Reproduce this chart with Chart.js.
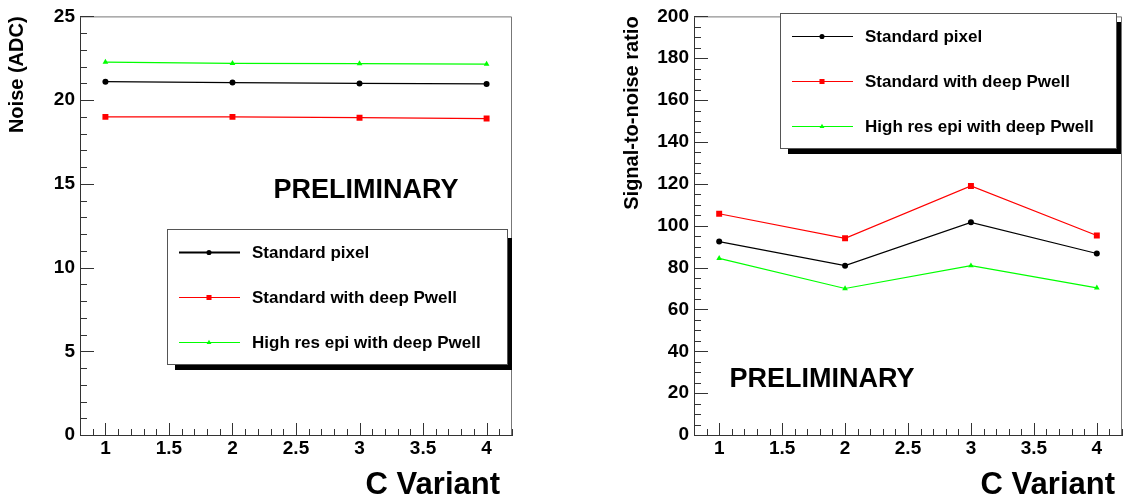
<!DOCTYPE html>
<html>
<head>
<meta charset="utf-8">
<script src="https://cdn.jsdelivr.net/npm/chart.js@4.4.0/dist/chart.umd.min.js"></script>
<style>
    body { margin: 0; background: #fff; width: 1128px; height: 502px; overflow: hidden; position: relative; }
    .panel { position: absolute; top: 0; }
    #noisePanel { left: 0; }
    #snrPanel { left: 560px; }
</style>
</head>
<body>
<div class="panel" id="noisePanel"><canvas id="noiseChart" width="560" height="502"></canvas></div>
<div class="panel" id="snrPanel"><canvas id="snrChart" width="568" height="502"></canvas></div>

<script>
// C variants on the x axis
const variants = [1, 2, 3, 4];
const seriesNames = ['Standard pixel', 'Standard with deep Pwell', 'High res epi with deep Pwell'];

// noise in ADC counts
const noiseStandard = [21.1, 21.05, 21.0, 20.97];
const noiseDeepPwell = [19.0, 19.0, 18.95, 18.9];
const noiseHighRes = [22.27, 22.2, 22.18, 22.15];

// signal-to-noise ratio
const snrStandard = [92.4, 80.9, 101.6, 86.7];
const snrDeepPwell = [105.7, 94.0, 119.0, 95.3];
const snrHighRes = [84.4, 70.0, 80.9, 70.3];

// labelled ticks
const xTickValues = [1, 1.5, 2, 2.5, 3, 3.5, 4];
const noiseTickValues = [0, 5, 10, 15, 20, 25];
const snrTickValues = [0, 20, 40, 60, 80, 100, 120, 140, 160, 180, 200];

const FONT = "'Liberation Sans', Arial, Helvetica, sans-serif";

function series(label, values, color, style, radius) {
    return {
        label: label,
        data: variants.map((v, i) => ({ x: v, y: values[i] })),
        borderColor: color,
        backgroundColor: color,
        borderWidth: 1.2,
        pointStyle: style,
        pointRadius: radius,
        pointBorderWidth: 0,
        pointHoverRadius: radius
    };
}

// ROOT style tick marks pointing into the frame, plus the grey top/right frame
const innerTicks = {
    id: 'innerTicks',
    afterDraw(chart, args, opts) {
        const { ctx, chartArea: a, scales: { x, y } } = chart;
        ctx.save();
        ctx.strokeStyle = '#777';
        ctx.lineWidth = 1;
        ctx.beginPath();
        ctx.moveTo(a.left, a.top + 0.5);
        ctx.lineTo(a.right - 0.5, a.top + 0.5);
        ctx.lineTo(a.right - 0.5, a.bottom);
        ctx.stroke();

        ctx.strokeStyle = '#333';
        ctx.beginPath();
        const eps = 1e-6;
        for (let k = Math.ceil(x.min / opts.xMinor - eps); k * opts.xMinor <= x.max + eps; k++) {
            const v = k * opts.xMinor;
            const r = v / opts.xMajor;
            const major = Math.abs(r - Math.round(r)) < eps;
            const px = Math.round(x.getPixelForValue(v)) + 0.5;
            ctx.moveTo(px, a.bottom);
            ctx.lineTo(px, a.bottom - (major ? 12 : 6));
        }
        for (let k = Math.ceil(y.min / opts.yMinor - eps); k * opts.yMinor <= y.max + eps; k++) {
            const v = k * opts.yMinor;
            const r = v / opts.yMajor;
            const major = Math.abs(r - Math.round(r)) < eps;
            const py = Math.round(y.getPixelForValue(v)) + 0.5;
            ctx.moveTo(a.left, py);
            ctx.lineTo(a.left + (major ? 14 : 7), py);
        }
        ctx.stroke();
        ctx.restore();
    }
};

// boxed legend with a drop shadow
const boxLegend = {
    id: 'boxLegend',
    afterDraw(chart, args, opts) {
        const ctx = chart.ctx;
        const { left, top, width, height } = opts;
        ctx.save();
        ctx.fillStyle = '#000';
        ctx.fillRect(left + 8, top + 9, width - 3, height - 3);
        ctx.fillStyle = '#fff';
        ctx.fillRect(left, top, width, height);
        ctx.strokeStyle = '#555';
        ctx.lineWidth = 1;
        ctx.strokeRect(left + 0.5, top + 0.5, width, height);

        chart.data.datasets.forEach((ds, i) => {
            const yy = Math.round(top + 23 + i * 45) + 0.5;
            ctx.strokeStyle = ds.borderColor;
            ctx.lineWidth = (opts.lineWidths || [])[i] || 1;
            ctx.beginPath();
            ctx.moveTo(left + 12, yy);
            ctx.lineTo(left + 73, yy);
            ctx.stroke();
            ctx.fillStyle = ds.backgroundColor;
            Chart.helpers.drawPoint(ctx, {
                pointStyle: ds.pointStyle,
                radius: ds.pointRadius * 0.85,
                borderWidth: 0,
                rotation: 0
            }, left + 42, yy);
            ctx.fillStyle = '#000';
            ctx.font = 'bold 17px ' + FONT;
            ctx.textBaseline = 'middle';
            ctx.textAlign = 'left';
            ctx.fillText(ds.label, left + 85, yy + 1);
        });
        ctx.restore();
    }
};

// free-standing text: PRELIMINARY stamp and the x axis title
const stamps = {
    id: 'stamps',
    afterDraw(chart, args, opts) {
        const ctx = chart.ctx;
        ctx.save();
        ctx.fillStyle = '#000';
        ctx.textBaseline = 'alphabetic';
        opts.items.forEach(item => {
            ctx.font = 'bold ' + item.size + 'px ' + FONT;
            ctx.textAlign = item.align;
            ctx.fillText(item.text, item.x, item.y);
        });
        ctx.restore();
    }
};

function makeChart(canvasId, datasets, y, layout) {
    const ctx = document.getElementById(canvasId).getContext('2d');
    return new Chart(ctx, {
        type: 'line',
        data: { datasets: datasets },
        plugins: [innerTicks, boxLegend, stamps],
        options: {
            responsive: false,
            animation: false,
            events: [],
            layout: { padding: { left: 0, top: 13, right: layout.padRight, bottom: 0 } },
            scales: {
                x: {
                    type: 'linear',
                    min: 0.8,
                    max: 4.2,
                    afterBuildTicks: scale => { scale.ticks = xTickValues.map(v => ({ value: v })); },
                    afterFit: scale => { scale.height = 67; },
                    grid: { display: false, drawTicks: false },
                    border: { display: true, color: '#333', width: 1 },
                    ticks: {
                        padding: 2,
                        color: '#000',
                        font: { family: FONT, size: 19, weight: 'bold' },
                        callback: v => String(v)
                    }
                },
                y: {
                    type: 'linear',
                    min: y.min,
                    max: y.max,
                    afterBuildTicks: scale => { scale.ticks = y.ticks.map(v => ({ value: v })); },
                    afterFit: scale => { scale.width = layout.yWidth; },
                    grid: { display: false, drawTicks: false },
                    border: { display: true, color: '#333', width: 1 },
                    ticks: {
                        padding: 5,
                        color: '#000',
                        font: { family: FONT, size: 19, weight: 'bold' },
                        callback: v => String(v)
                    },
                    title: {
                        display: true,
                        text: y.title,
                        align: 'end',
                        color: '#000',
                        padding: { top: layout.titlePad, bottom: 0 },
                        font: { family: FONT, size: 20, weight: 'bold' }
                    }
                }
            },
            plugins: {
                legend: { display: false },
                tooltip: { enabled: false },
                innerTicks: { xMinor: 0.1, xMajor: 0.5, yMinor: y.minor, yMajor: y.major },
                boxLegend: layout.legend,
                stamps: { items: layout.stamps }
            }
        }
    });
}

makeChart('noiseChart', [
    series(seriesNames[0], noiseStandard, '#000000', 'circle', 3),
    series(seriesNames[1], noiseDeepPwell, '#ff0000', 'rect', 4.2),
    series(seriesNames[2], noiseHighRes, '#00ff00', 'triangle', 3.3)
], {
    min: 0, max: 25, ticks: noiseTickValues, minor: 1, major: 5, title: 'Noise (ADC)'
}, {
    padRight: 48,
    yWidth: 80,
    titlePad: 5.5,
    legend: { left: 167, top: 229, width: 340, height: 135, lineWidths: [2, 1, 1] },
    stamps: [
        { text: 'PRELIMINARY', x: 366, y: 198, size: 27, align: 'center' },
        { text: 'C Variant', x: 500, y: 494, size: 31, align: 'right' }
    ]
});

makeChart('snrChart', [
    series(seriesNames[0], snrStandard, '#000000', 'circle', 3),
    series(seriesNames[1], snrDeepPwell, '#ff0000', 'rect', 4.2),
    series(seriesNames[2], snrHighRes, '#00ff00', 'triangle', 3.3)
], {
    min: 0, max: 200, ticks: snrTickValues, minor: 5, major: 20, title: 'Signal-to-noise ratio'
}, {
    padRight: 6,
    yWidth: 134,
    titlePad: 60,
    legend: { left: 220, top: 13, width: 336, height: 135, lineWidths: [1, 1, 1] },
    stamps: [
        { text: 'PRELIMINARY', x: 262, y: 387, size: 27, align: 'center' },
        { text: 'C Variant', x: 555, y: 494, size: 31, align: 'right' }
    ]
});
</script>
</body>
</html>
